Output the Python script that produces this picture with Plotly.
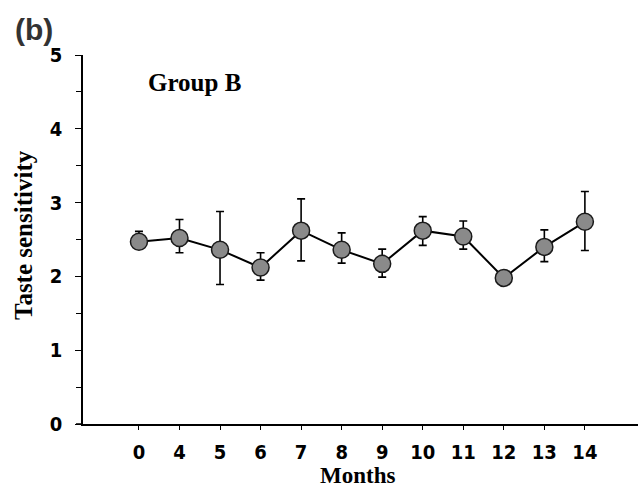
import plotly.graph_objects as go

months = ["0", "4", "5", "6", "7", "8", "9", "10", "11", "12", "13", "14"]
sensitivity = [2.47, 2.52, 2.36, 2.12, 2.62, 2.36, 2.17, 2.62, 2.54, 1.98, 2.40, 2.74]
err_plus = [0.14, 0.25, 0.52, 0.20, 0.43, 0.23, 0.20, 0.19, 0.21, 0.0, 0.23, 0.41]
err_minus = [0.08, 0.20, 0.47, 0.17, 0.41, 0.18, 0.18, 0.20, 0.17, 0.0, 0.20, 0.39]
y_ticks = [0, 1, 2, 3, 4, 5]

W, H = 638, 489
L, R, T, B = 83, 0, 55, 65
pw, ph = W - L - R, H - T - B


def px(x):
    return (x - L) / pw


def py(y):
    return (H - B - y) / ph


narrow = "DejaVu Sans Condensed, Liberation Sans Narrow, Liberation Sans, sans-serif"
serif = "Liberation Serif, Times New Roman, serif"

fig = go.Figure()
fig.add_trace(go.Scatter(
    x=months, y=sensitivity, mode="lines+markers",
    line=dict(color="black", width=2),
    marker=dict(size=17, color="#8a8a8a", line=dict(color="#1a1a1a", width=1.5)),
    error_y=dict(type="data", symmetric=False, array=err_plus, arrayminus=err_minus,
                 color="black", thickness=1.6, width=4),
    showlegend=False,
))

fig.update_layout(
    width=W, height=H,
    margin=dict(l=L, r=R, t=T, b=B, autoexpand=False),
    paper_bgcolor="white", plot_bgcolor="white",
    xaxis=dict(
        type="category", range=[-1.38, 12.31], automargin=False,
        showline=True, linecolor="black", linewidth=1.5,
        ticks="outside", ticklen=4, tickwidth=1.2, tickcolor="black",
        showgrid=False, zeroline=False,
        tickfont=dict(family=narrow, size=20, color="black", weight="bold"),
        ticklabelstandoff=5,
    ),
    yaxis=dict(
        range=[0, 5], tickvals=y_ticks, ticktext=[str(v) for v in y_ticks],
        automargin=False,
        showline=True, linecolor="black", linewidth=1.5,
        ticks="outside", ticklen=6, tickwidth=1.2, tickcolor="black",
        minor=dict(dtick=0.5, ticks="outside", ticklen=5, tickcolor="black", tickwidth=1.2),
        showgrid=False, zeroline=False,
        tickfont=dict(family=narrow, size=20, color="black", weight="bold"),
        ticklabelstandoff=9,
    ),
    shapes=[dict(type="line", xref="paper", yref="paper",
                 x0=px(76), x1=0, y0=0, y1=0,
                 line=dict(color="black", width=1.5))],
    annotations=[
        dict(text="(b)", x=px(34), y=py(29), xref="paper", yref="paper",
             showarrow=False, xanchor="center", yanchor="middle",
             font=dict(family="Liberation Sans, Arial, sans-serif", size=30,
                       color="#333333", weight="bold")),
        dict(text="Group B", x=px(194), y=py(83), xref="paper", yref="paper",
             showarrow=False, xanchor="center", yanchor="middle",
             font=dict(family=serif, size=25, color="black", weight="bold")),
        dict(text="Months", x=px(357), y=py(475), xref="paper", yref="paper",
             showarrow=False, xanchor="center", yanchor="middle",
             font=dict(family=serif, size=23, color="black", weight="bold")),
        dict(text="Taste sensitivity", x=px(23), y=py(235), xref="paper", yref="paper",
             showarrow=False, xanchor="center", yanchor="middle", textangle=-90,
             font=dict(family=serif, size=25, color="black", weight="bold")),
    ],
)

fig.write_html("out.html", config={"displayModeBar": False},
               post_script="document.body.style.margin='0px';document.body.style.overflow='hidden';")
